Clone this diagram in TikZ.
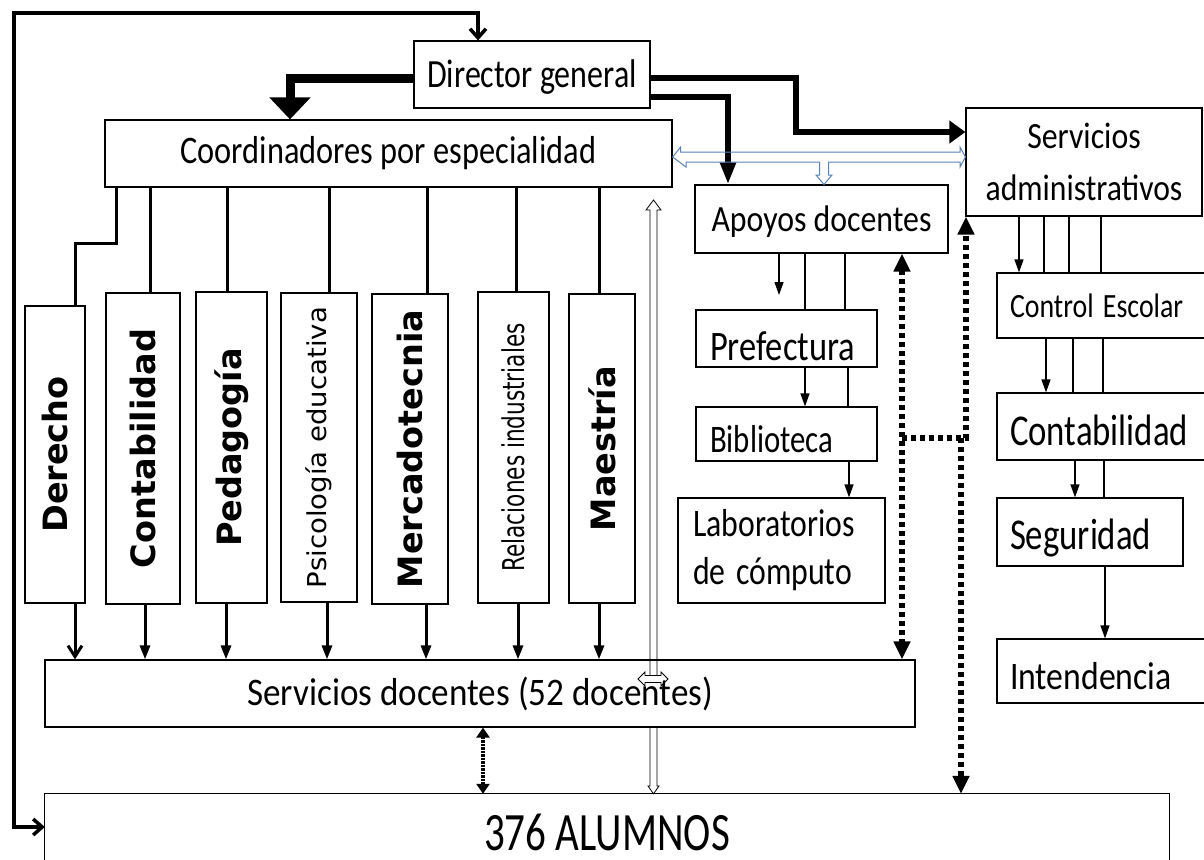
\documentclass[tikz,border=0pt]{standalone}
\usepackage{fontspec}
\setmainfont{Carlito}
\newfontfamily\dvs{DejaVu Sans}
\usetikzlibrary{arrows.meta,calc}
\newcommand\sx[2]{\scalebox{#1}[1]{#2}}
\newcommand\dn[2]{\raisebox{-#1pt}[\height][\depth]{#2}}
\definecolor{hollowblue}{HTML}{5B82B8}
\tikzset{
  box/.style={draw, line width=1.2pt, fill=white, inner sep=0pt, rectangle},
  lbox/.style={box, align=left, inner xsep=#1, inner ysep=0pt},
  vline/.style={line width=3pt},
  varrow/.style={line width=3pt, -{Triangle[length=14pt,width=10pt]}},
  tline/.style={line width=1.2pt},
  tarrow/.style={line width=1.2pt, -{Triangle[length=13pt,width=9pt]}},
  dots/.style={line width=5.5pt, dash pattern=on 5pt off 4pt},
  dothead/.tip={Triangle[length=18pt,width=16pt]},
  hollow/.style={line width=0.8pt, draw=black, line join=miter},
  bluehollow/.style={line width=1pt, draw=hollowblue, line join=miter},
}
\begin{document}
\begin{tikzpicture}[x=1pt,y=-1pt]
\useasboundingbox (0,0) rectangle (1204,859);

% ---------- top boxes
\node[box, minimum width=236, minimum height=67, font=\fontsize{40}{48}\selectfont] (dir) at (532,74.5) {\dn{3}{\sx{0.80}{Director general}}};
\node[box, minimum width=567, minimum height=67, font=\fontsize{39}{47}\selectfont] (coord) at (388.5,153.5) {\sx{0.83}{Coordinadores por especialidad}};
\node[box, minimum width=236, minimum height=108, align=center, font=\fontsize{37}{52}\selectfont] (sadmin) at (1084,162) {\sx{0.86}{Servicios}\\\sx{0.855}{administrativos}};
\node[box, minimum width=253, minimum height=68, font=\fontsize{37}{44}\selectfont] (apoyos) at (821.5,219) {\dn{3}{\sx{0.86}{Apoyos docentes}}};

% ---------- apoyos column
\node[lbox=14pt, text width=153pt, minimum height=57, font=\fontsize{42}{50}\selectfont] (pref) at (786.5,338.5) {\dn{8}{\sx{0.82}{Prefectura}}};
\node[lbox=14pt, text width=153pt, minimum height=54, font=\fontsize{39}{47}\selectfont] (bib) at (786.5,434) {\dn{5}{\sx{0.79}{Biblioteca}}};
\node[lbox=15pt, text width=177pt, minimum height=105, font=\fontsize{39}{48}\selectfont] (labs) at (781.5,550.5) {\sx{0.815}{Laboratorios}\\\sx{0.815}{de cómputo}};

% ---------- administrative column
\node[lbox=13pt, text width=192pt, minimum height=65, font=\fontsize{34}{41}\selectfont] (cesc) at (1106,305.5) {\sx{0.82}{Control Escolar}};
\node[lbox=13pt, text width=192pt, minimum height=67, font=\fontsize{44}{53}\selectfont] (conta) at (1106,426.5) {\dn{4}{\sx{0.79}{Contabilidad}}};
\node[lbox=13pt, text width=160pt, minimum height=68, font=\fontsize{44}{53}\selectfont] (seg) at (1090,532) {\dn{6}{\sx{0.79}{Seguridad}}};
\node[lbox=13pt, text width=192pt, minimum height=64, font=\fontsize{39}{47}\selectfont] (inten) at (1106,671) {\dn{5}{\sx{0.865}{Intendencia}}};

% ---------- specialities
\node[box, minimum width=60, minimum height=297] (der) at (55,454.5) {\rotatebox{90}{\dvs\bfseries\fontsize{33.5}{40}\selectfont Derecho}};
\node[box, minimum width=74, minimum height=311] (cont) at (143,448.5) {\rotatebox{90}{\dvs\bfseries\fontsize{33.5}{40}\selectfont Contabilidad}};
\node[box, minimum width=71, minimum height=311] (ped) at (231.5,447.5) {\rotatebox{90}{\dvs\bfseries\fontsize{33.5}{40}\selectfont Pedagogía}};
\node[box, minimum width=76, minimum height=309] (psi) at (319,447.5) {\rotatebox{90}{\dvs\fontsize{26}{30}\selectfont\sx{1.06}{Psicología educativa}}};
\node[box, minimum width=76, minimum height=310] (mer) at (410,449) {\rotatebox{90}{\dvs\bfseries\fontsize{33.5}{40}\selectfont Mercadotecnia}};
\node[box, minimum width=71, minimum height=311] (rel) at (513.5,447.5) {\rotatebox{90}{\dvs\fontsize{30}{34}\selectfont\sx{0.72}{Relaciones industriales}}};
\node[box, minimum width=66, minimum height=309] (mae) at (602,448.5) {\rotatebox{90}{\dvs\bfseries\fontsize{33.5}{40}\selectfont Maestría}};

% ---------- bottom boxes
\node[box, minimum width=870, minimum height=67, font=\fontsize{39}{47}\selectfont] (sdoc) at (480,693.5) {\sx{0.9}{Servicios docentes (52 docentes)}};
\node[fill=white, inner sep=0pt, minimum width=1124, minimum height=62, font=\fontsize{54}{64}\selectfont] (alum) at (607,825) {\dn{7}{\sx{0.76}{376 ALUMNOS}}};
\draw[line width=1.2pt] ([yshift=-8pt]alum.south west) -- (alum.north west) -- (alum.north east) -- ([yshift=-8pt]alum.south east);

% ---------- loop line
\draw[line width=3.5pt, line join=miter, {Straight Barb[length=9pt,width=16pt]}-{Straight Barb[length=9pt,width=16pt]}]
  (alum.west |- 0,827) -- (14,827) -- (14,13) -- (478,13) -- (dir.north -| 478,0);

% ---------- director arrows
\draw[line width=9pt, line join=miter, -{Triangle[length=22pt,width=40pt]}] (dir.west |- 0,78) -| (coord.north -| 290,0);
\draw[line width=6pt, line join=miter, -{Triangle[length=16pt,width=22pt]}] (dir.east |- 0,78) -| (796,105) |- (sadmin.west |- 0,132);
\draw[line width=6pt, line join=miter, -{Triangle[length=22pt,width=15pt]}] (dir.east |- 0,97) -| (apoyos.north -| 728,0);

% ---------- coordinadores to specialities
\draw[vline, line join=miter] (coord.south -| 116,0) |- (75,243) -- (der.north -| 75,0);
\foreach \n/\x in {cont/150, ped/227, psi/329, mer/427, rel/516, mae/599}
  \draw[vline] (coord.south -| \x,0) -- (\n.north -| \x,0);
\draw[vline, -{Straight Barb[length=11pt,width=14pt]}] (der.south -| 75,0) -- (sdoc.north -| 75,0);
\foreach \n/\x in {cont/145, ped/226, psi/327, mer/426, rel/518, mae/599}
  \draw[varrow] (\n.south -| \x,0) -- (sdoc.north -| \x,0);

% ---------- apoyos connectors
\coordinate (afree) at (779,295);
\draw[tarrow] (apoyos.south -| afree) -- (afree);
\draw[tline] (apoyos.south -| 805,0) -- (pref.north -| 805,0);
\draw[tline] (apoyos.south -| 845,0) -- (pref.north -| 845,0);
\draw[tarrow] (pref.south -| 805,0) -- (bib.north -| 805,0);
\draw[tline] (pref.south -| 848,0) -- (bib.north -| 848,0);
\draw[tarrow] (bib.south -| 849,0) -- (labs.north -| 849,0);

% ---------- administrative connectors
\draw[tarrow] (sadmin.south -| 1019,0) -- (cesc.north -| 1019,0);
\foreach \x in {1044,1069,1101} \draw[tline] (sadmin.south -| \x,0) -- (cesc.north -| \x,0);
\draw[tarrow] (cesc.south -| 1046,0) -- (conta.north -| 1046,0);
\foreach \x in {1073,1103} \draw[tline] (cesc.south -| \x,0) -- (conta.north -| \x,0);
\draw[tarrow] (conta.south -| 1075,0) -- (seg.north -| 1075,0);
\draw[tline] (conta.south -| 1104,0) -- (seg.north -| 1104,0);
\draw[tarrow] (seg.south -| 1105,0) -- (inten.north -| 1105,0);

% ---------- dotted links
\draw[dots, dothead-dothead] (apoyos.south -| 902,0) -- (sdoc.north -| 902,0);
\coordinate (j1) at (902,438);
\coordinate (j2) at (961,438);
\draw[dots, -dothead] (j1) -| (sadmin.south -| 966,0);
\draw[dots, -dothead] (j2) -- (alum.north -| j2);
\draw[line width=4.5pt, dash pattern=on 2.5pt off 1pt, {Triangle[length=10pt,width=13pt]}-{Triangle[length=10pt,width=13pt]}] (sdoc.south -| 483,0) -- (alum.north -| 483,0);

% ---------- hollow arrows
\draw[bluehollow] (coord.east |- 0,157) -- ++(8,-10) -- ++(0,5) -- (960,152) -- (960,147) -- (sadmin.west |- 0,157)
  -- (960,167) -- (960,162) -- (828.5,162) -- (828.5,175) -- (832,175) -- (apoyos.north -| 824,0) -- (816,175) -- (819.5,175)
  -- (819.5,162) -- (686,162) -- (686,167) -- cycle;
\draw[hollow] (650,675.5) -- (650,210) -- (646,210) -- (653.5,200) -- (661,210) -- (657,210) -- (657,675.5);
\draw[hollow] (638,679) -- (645,672) -- (645,675.5) -- (661,675.5) -- (661,672) -- (668,679) -- (661,686) -- (661,682.5) -- (645,682.5) -- (645,686) -- cycle;
\draw[hollow] (sdoc.south -| 650,0) -- (650,786) -- (648,786) -- (alum.north -| 653.5,0) -- (659,786) -- (657,786) -- (sdoc.south -| 657,0);
\end{tikzpicture}
\end{document}
